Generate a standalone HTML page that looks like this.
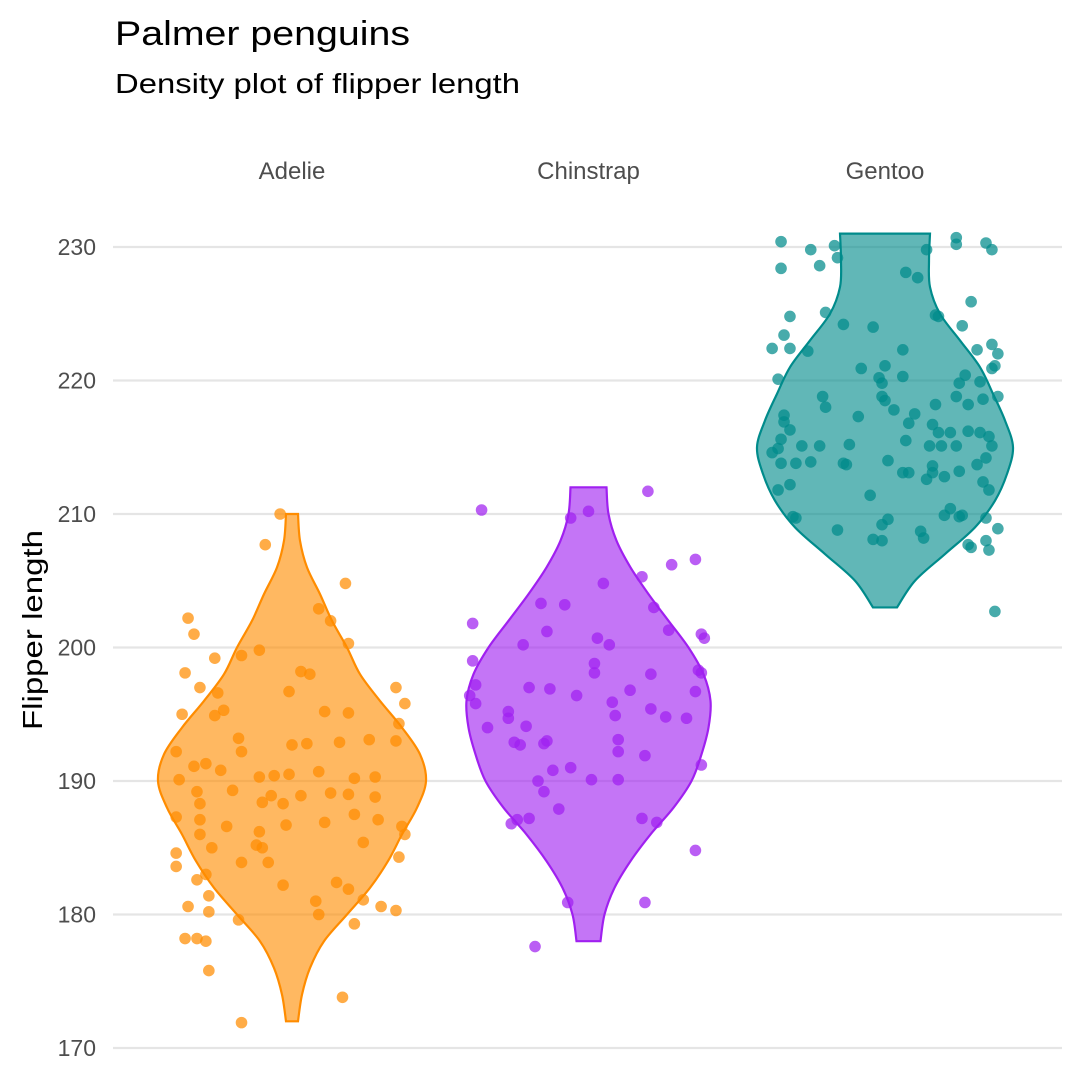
<!DOCTYPE html>
<html><head><meta charset="utf-8"><style>
html,body{margin:0;padding:0;background:#fff;}
svg{display:block;font-family:"Liberation Sans",sans-serif;}
</style></head><body>
<svg id="chart" width="1080" height="1080" viewBox="0 0 1080 1080">
<rect width="1080" height="1080" fill="#fff"/>
<text x="115" y="45" font-size="34" fill="#000" textLength="295" lengthAdjust="spacingAndGlyphs">Palmer penguins</text>
<text x="115" y="93" font-size="28" fill="#000" textLength="405" lengthAdjust="spacingAndGlyphs">Density plot of flipper length</text>
<text transform="translate(42,630) rotate(-90)" text-anchor="middle" font-size="28" fill="#000" textLength="200" lengthAdjust="spacingAndGlyphs">Flipper length</text>
<g id="grid"></g><g id="violins"></g><g id="points"></g><g id="labels"></g>
</svg>
<script>
const categories = ["Adelie","Chinstrap","Gentoo"];
const colors = ["#FF8C00","#A020F0","#008B8B"];
const yTicks = [170,180,190,200,210,220,230];
// violin density profiles: value levels and relative half-widths
const adelieLevels = [172,174,176,178,180,182,184,186,188,190,192,194,196,198,200,202,204,206,208,210];
const adelieWidths = [6,10,18,32,55,78,96,110,125,134,128,110,88,68,55,40,28,15,8,6];
const chinLevels = [178,180,182,184,186,188,190,192,194,196,198,200,202,204,206,208,210,212];
const chinWidths = [12,16,26,42,62,85,103,113,120,122,115,100,80,60,42,28,20,18];
const gentooLevels = [203,205,207,209,211,213,215,217,219,221,223,225,227,229,231];
const gentooWidths = [12,30,60,90,110,122,128,120,108,95,75,55,45,44,45];
// points: jitter (percent of band) and flipper length
const adelieJitter = [-4,-9,18,-35,9,-33,13,19,-36,-26,-17,-11,-31,-25,3,6,35,-37,-23,-26,-1,11,19,38,36,-39,-18,-17,0,5,16,26,35,-29,-33,-24,-11,-6,-1,9,21,28,-38,-32,-20,-7,3,13,19,28,-31,-10,-3,-39,-31,-22,-2,11,21,29,37,-31,-11,38,-39,-12,-10,-27,24,36,-39,-17,-8,-29,-32,-3,15,19,8,24,-35,30,-28,9,35,-28,-18,21,-36,-32,-29,-28,17,-17];
const adelieValues = [210.0,207.7,204.8,202.2,202.9,201,202,200.3,198.1,199.2,199.4,199.8,197,196.6,198.2,198,197,195,195.3,194.9,196.7,195.2,195.1,195.8,194.3,192.2,193.2,192.2,192.7,192.8,192.9,193.1,193,191.3,191.1,190.8,190.3,190.4,190.5,190.7,190.2,190.3,190.1,189.2,189.3,188.9,188.9,189.1,189.0,188.8,188.3,188.4,188.3,187.3,187.1,186.6,186.7,186.9,187.5,187.1,186.6,186.0,186.2,186.0,184.6,185.2,185.0,185.0,185.4,184.3,183.6,183.9,183.9,183.0,182.6,182.2,182.4,181.9,181.0,181.1,180.6,180.6,180.2,180.0,180.3,181.4,179.6,179.3,178.2,178.2,178.0,175.8,173.8,171.9];
const chinJitter = [-36,-6,0,20,36,28,5,18,22,-16,-8,-39,-14,27,38,39,-22,3,7,-39,2,2,21,37,38,-38,-20,-13,14,-40,-4,8,-38,36,-27,21,9,-27,26,33,-34,-21,10,-14,-25,-23,-15,10,19,-12,-6,38,-17,1,10,-15,-10,-20,-26,-24,18,23,36,-7,19,-18];
const chinValues = [210.3,209.7,210.2,211.7,206.6,206.2,204.8,205.3,203,203.3,203.2,201.8,201.2,201.3,201.0,200.7,200.2,200.7,200.2,199.0,198.8,198.1,198.0,198.3,198.1,197.2,197.0,196.9,196.8,196.4,196.4,195.9,195.8,196.7,195.2,195.4,194.9,194.7,194.8,194.7,194.0,194.1,193.1,193.0,192.9,192.7,192.8,192.2,191.9,190.8,191.0,191.2,190.0,190.1,190.1,189.2,187.9,187.2,186.8,187.1,187.2,186.9,184.8,180.9,180.9,177.6];
const gentooJitter = [-35,24,-25,-17,14,24,34,36,-35,-22,-16,7,11,29,-32,-20,17,18,-14,-4,26,-34,-38,-32,-26,6,36,38,31,-8,0,-36,-2,6,27,25,32,37,36,-1,-21,-1,0,24,33,38,28,-20,3,-34,-9,-34,10,8,17,-32,22,28,32,18,16,35,36,-35,-28,-22,-12,7,15,19,24,-38,-36,-30,-25,-14,-13,16,31,34,1,6,8,16,25,14,20,-35,-32,-36,-5,33,35,22,20,25,26,34,-31,-30,1,-1,-16,12,38,-4,-1,13,34,28,29,35,37];
const gentooValues = [230.4,230.7,229.8,230.1,229.8,230.2,230.3,229.8,228.4,228.6,229.2,228.1,227.7,225.9,224.8,225.1,224.9,224.8,224.2,224.0,224.1,223.4,222.4,222.4,222.2,222.3,222.7,222.0,222.3,220.9,221.1,220.1,220.2,220.3,220.4,219.8,219.9,221.1,220.9,219.8,218.8,218.8,218.5,218.8,218.6,218.8,218.2,218.0,217.8,217.4,217.3,216.9,217.5,216.8,218.2,216.3,216.1,216.2,216.1,216.1,216.7,215.8,215.1,215.6,215.1,215.1,215.2,215.5,215.1,215.1,215.1,214.6,214.9,213.8,213.9,213.8,213.7,213.6,213.7,214.2,214.0,213.1,213.1,213.1,213.2,212.6,212.8,213.8,212.2,211.8,211.4,212.4,211.8,210.4,209.9,209.8,209.9,209.7,209.8,209.7,209.6,209.2,208.8,208.7,208.9,208.1,208.0,208.2,208.0,207.7,207.5,207.3,202.7];

const NS="http://www.w3.org/2000/svg";
const yScale = v => 1048 - (v-170)*13.35;
const xBand = i => 292 + i*296.5;
const jx = (i,j) => xBand(i) + j*2.97;
const widthScale = w => w;
function mk(tag, attrs, parent){const e=document.createElementNS(NS,tag);for(const k in attrs)e.setAttribute(k,attrs[k]);parent.appendChild(e);return e;}
const grid=document.getElementById('grid'), vg=document.getElementById('violins'), pg=document.getElementById('points'), lg=document.getElementById('labels');
yTicks.forEach(t=>{
  const l=mk('line',{x1:113,x2:1062,y1:yScale(t),y2:yScale(t),stroke:'#e5e5e5','stroke-width':2.2},grid);
  
  
  const tx=mk('text',{x:96,y:yScale(t)+8,'text-anchor':'end','font-size':23,fill:'#4d4d4d'},lg);
  tx.textContent=t;
  
  
});
categories.forEach((c,i)=>{
  const tx=mk('text',{x:xBand(i),y:179,'text-anchor':'middle','font-size':24,fill:'#4d4d4d'},lg);
  tx.textContent=c;
  
  
});
function spline(pts){
  let d='M'+pts[0][0]+','+pts[0][1];
  for(let k=0;k<pts.length-1;k++){
    const p0=pts[Math.max(k-1,0)],p1=pts[k],p2=pts[k+1],p3=pts[Math.min(k+2,pts.length-1)];
    const c1=[p1[0]+(p2[0]-p0[0])/6,p1[1]+(p2[1]-p0[1])/6];
    const c2=[p2[0]-(p3[0]-p1[0])/6,p2[1]-(p3[1]-p1[1])/6];
    d+='C'+c1.join(',')+' '+c2.join(',')+' '+p2.join(',');
  }
  return d;
}
const levels=[adelieLevels,chinLevels,gentooLevels], widths=[adelieWidths,chinWidths,gentooWidths];
levels.forEach((lv,i)=>{
  const cx=xBand(i);
  const right=lv.map((v,k)=>[cx+widthScale(widths[i][k]),yScale(v)]);
  const left=lv.map((v,k)=>[cx-widthScale(widths[i][k]),yScale(v)]).reverse();
  const r=spline(right), l=spline(left);
  const d=r+'L'+left[0].join(',')+l.replace(/^M[^C]*/,'')+'Z';
  const p=mk('path',{d:d,fill:colors[i],'fill-opacity':0.62,stroke:colors[i],'stroke-width':2.2},vg);
  
  
});
const jit=[adelieJitter,chinJitter,gentooJitter], vals=[adelieValues,chinValues,gentooValues];
vals.forEach((arr,i)=>{
  arr.forEach((v,k)=>{
    const c=mk('circle',{cx:jx(i,jit[i][k]),cy:yScale(v),r:5.8,fill:colors[i],'fill-opacity':0.72},pg);
    
    
  });
});
</script>
</body></html>
